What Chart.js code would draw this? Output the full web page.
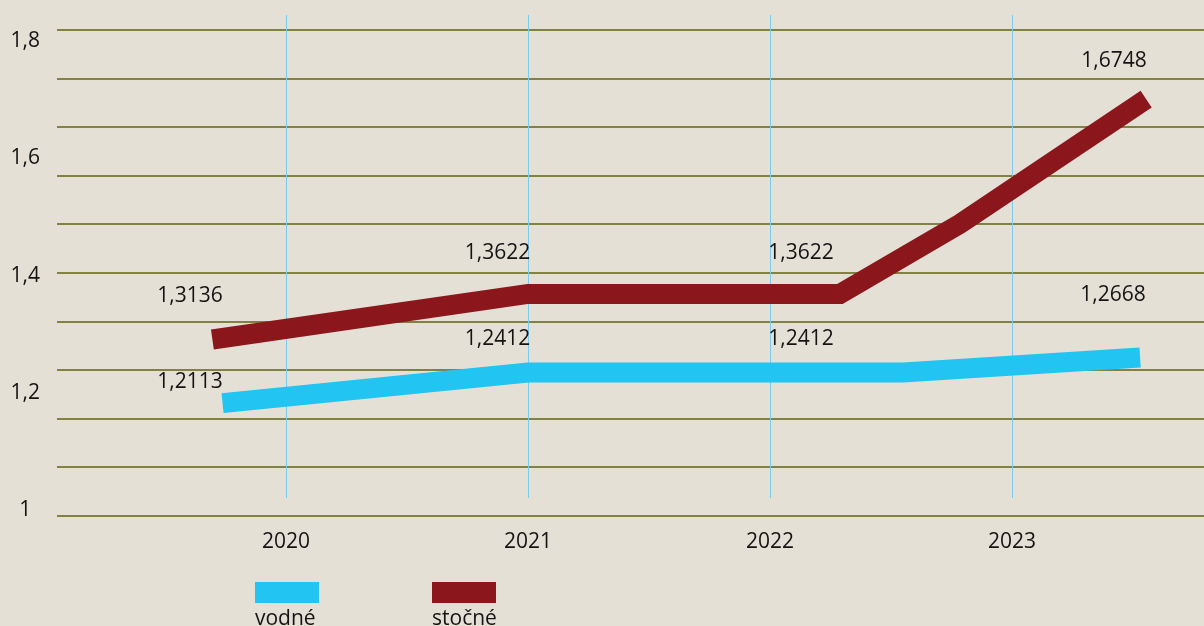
<!DOCTYPE html>
<html><head><meta charset="utf-8">
<script src="https://cdn.jsdelivr.net/npm/chart.js@4.4.1/dist/chart.umd.min.js"></script>
<style>html,body{margin:0;padding:0;background:#e5e0d5;overflow:hidden}canvas{display:block}</style>
</head><body>
<canvas id="c" width="1204" height="626"></canvas>
<script>
// ---- data ----
const years = [2020, 2021, 2022, 2023];
const seriesNames = ['vodné', 'stočné'];
const vodneValues = [1.2113, 1.2412, 1.2412, 1.2668];
const stocneValues = [1.3136, 1.3622, 1.3622, 1.6748];
const yTickLabels = [1, 1.2, 1.4, 1.6, 1.8];
// line path vertices as drawn in the picture (x in years, y in value units)
const vodneLineX = [2019.738, 2021.0, 2022.55, 2023.529];
const vodneLineY = [1.1858, 1.2361, 1.2361, 1.2608];
const stocneLineX = [2019.696, 2021.0, 2022.289, 2022.785, 2023.554];
const stocneLineY = [1.2905, 1.3655, 1.3655, 1.481, 1.6862];

const FONT = "'Open Sans', 'DejaVu Sans', sans-serif";
const TEXT = '#141414';
const BLUE = '#22c4f2';
const RED = '#8b171c';
const fmt = v => String(+Number(v).toFixed(4)).replace('.', ',');

const toPts = (xs, ys) => xs.map((x, i) => ({x, y: ys[i]}));

// vertical year lines
const yearLines = {
  id: 'yearLines',
  beforeDatasetsDraw(chart) {
    const {ctx, chartArea, scales} = chart;
    ctx.save();
    ctx.strokeStyle = '#7ccbed';
    ctx.lineWidth = 1;
    years.forEach(y => {
      const x = Math.round(scales.x.getPixelForValue(y)) + 0.5;
      ctx.beginPath();
      ctx.moveTo(x, chartArea.top - 15);
      ctx.lineTo(x, chartArea.bottom - 18);
      ctx.stroke();
    });
    ctx.restore();
  }
};

// value labels
const valueLabels = {
  id: 'valueLabels',
  afterDatasetsDraw(chart, args, opts) {
    const {ctx, scales} = chart;
    ctx.save();
    ctx.font = '21px ' + FONT;
    ctx.fillStyle = TEXT;
    ctx.textAlign = 'center';
    ctx.textBaseline = 'middle';
    const sets = [vodneValues, stocneValues];
    sets.forEach((vals, s) => {
      vals.forEach((v, i) => {
        const [dx, dy] = opts.offsets[s][i];
        const x = scales.x.getPixelForValue(years[i]) + dx;
        const y = scales.y.getPixelForValue(v) + dy;
        ctx.fillText(fmt(v), x, y);
      });
    });
    ctx.restore();
  }
};

// custom legend: swatch with label underneath
const boxLegend = {
  id: 'boxLegend',
  afterDraw(chart, args, opts) {
    const {ctx} = chart;
    ctx.save();
    chart.data.datasets.forEach((ds, i) => {
      const x = opts.x[i];
      ctx.fillStyle = ds.borderColor;
      ctx.fillRect(x, opts.boxTop, 64, 21);
      ctx.font = '21px ' + FONT;
      ctx.fillStyle = TEXT;
      ctx.textAlign = 'left';
      ctx.textBaseline = 'alphabetic';
      ctx.fillText(ds.label, x, opts.textBaseline);
    });
    ctx.restore();
  }
};

new Chart(document.getElementById('c'), {
  type: 'line',
  data: {
    datasets: [
      {label: seriesNames[0], data: toPts(vodneLineX, vodneLineY), borderColor: BLUE, backgroundColor: BLUE,
       borderWidth: 20, pointRadius: 0, tension: 0, borderCapStyle: 'butt', borderJoinStyle: 'miter', clip: false},
      {label: seriesNames[1], data: toPts(stocneLineX, stocneLineY), borderColor: RED, backgroundColor: RED,
       borderWidth: 20, pointRadius: 0, tension: 0, borderCapStyle: 'butt', borderJoinStyle: 'miter', clip: false}
    ]
  },
  options: {
    responsive: false,
    animation: false,
    events: [],
    layout: {padding: {top: 30, right: 0, bottom: 0, left: 0}},
    plugins: {
      legend: {display: false},
      tooltip: {enabled: false},
      valueLabels: {
        offsets: [
          [[-96, -5.5], [-30.5, -30.5], [31, -30.5], [101, -59]],
          [[-96, -29.5], [-30.5, -43], [31, -43], [102, -45.5]]
        ]
      },
      boxLegend: {x: [255, 432], boxTop: 582, textBaseline: 625}
    },
    scales: {
      x: {
        type: 'linear',
        min: 2019.054, max: 2023.793,
        grid: {display: false},
        border: {display: false},
        ticks: {font: {family: FONT, size: 21}, color: TEXT, padding: 5, maxRotation: 0, autoSkip: false,
                callback: v => String(v)},
        afterBuildTicks: s => { s.ticks = years.map(v => ({value: v})); },
        afterFit: s => { s.height = 110; }
      },
      y: {
        position: 'left',
        min: 1, max: 1.8,
        grid: {color: '#81823f', lineWidth: 2, drawTicks: false},
        border: {display: false},
        ticks: {display: false},
        afterBuildTicks: s => { const t = []; for (let i = 0; i <= 10; i++) t.push({value: 1 + i * 0.08}); s.ticks = t; },
        afterFit: s => { s.width = 0; }
      },
      yl: {
        position: 'left',
        min: 0.9896, max: 1.819,
        grid: {display: false, drawTicks: false},
        border: {display: false},
        ticks: {font: {family: FONT, size: 21}, color: TEXT, padding: 17, crossAlign: 'center',
                callback: v => fmt(v)},
        afterBuildTicks: s => { s.ticks = yTickLabels.map(v => ({value: v})); },
        afterFit: s => { s.width = 57; }
      }
    }
  },
  plugins: [yearLines, valueLabels, boxLegend]
});
</script>
</body></html>
